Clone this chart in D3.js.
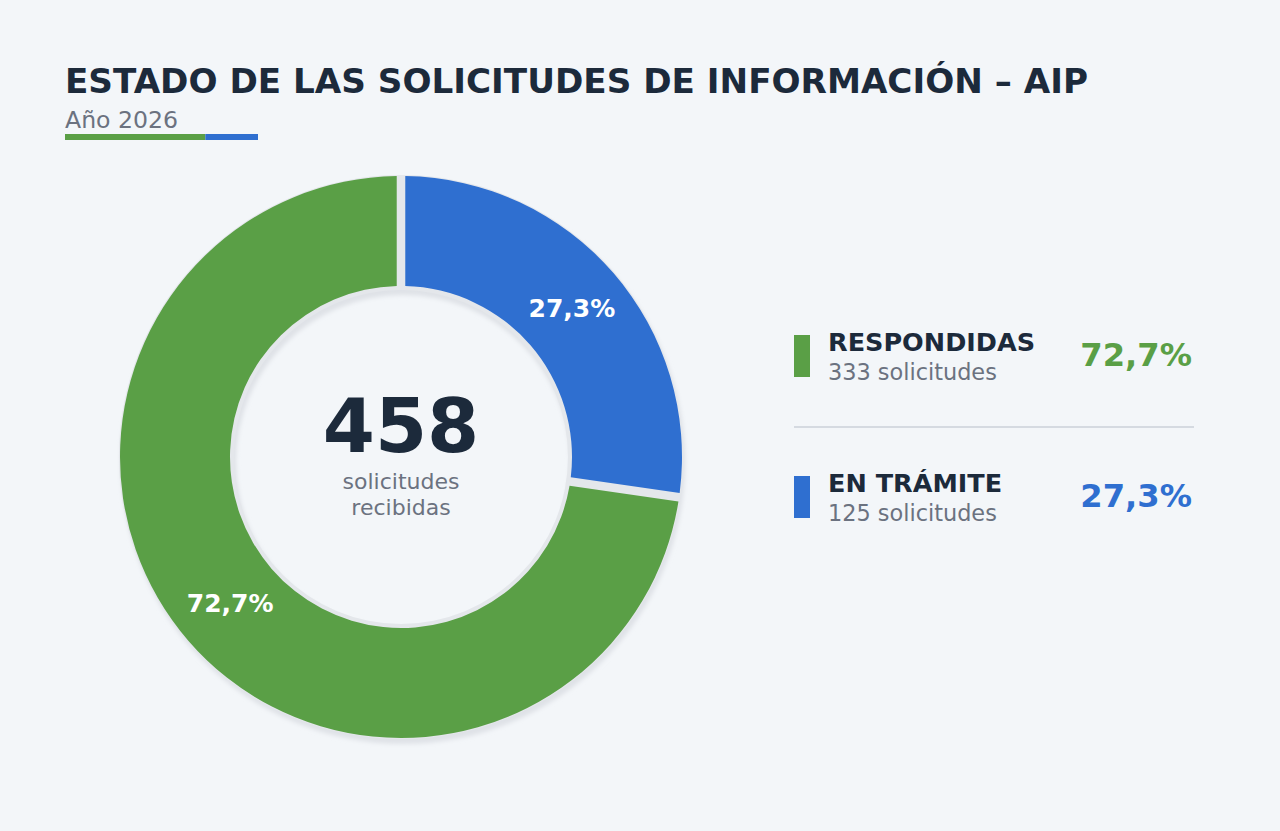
<!DOCTYPE html>
<html>
<head>
<meta charset="utf-8">
<script src="https://cdn.jsdelivr.net/npm/d3@7"></script>
<style>
  html, body { margin: 0; padding: 0; background: #f3f6f9; }
  svg { display: block; font-family: "DejaVu Sans", sans-serif; }
</style>
</head>
<body>
<svg class="chart"></svg>
<script>
const categories = ["EN TRÁMITE", "RESPONDIDAS"];
const counts = [125, 333];
const percentLabels = ["27,3%", "72,7%"];
const colors = ["#2f6fd0", "#5a9f46"];

const legendOrder = [1, 0];

const width = 1280;
const height = 831;

const svg = d3.select('.chart')
  .attr('width', width)
  .attr('height', height);

svg.append('rect')
  .attr('width', width)
  .attr('height', height)
  .attr('fill', '#f3f6f9');

// title block
svg.append('text')
  .attr('x', 65)
  .attr('y', 93)
  .attr('fill', '#1c2a3b')
  .style('font-size', '34.2px')
  .style('font-weight', 'bold')
  .text('ESTADO DE LAS SOLICITUDES DE INFORMACIÓN – AIP');

svg.append('text')
  .attr('x', 65)
  .attr('y', 128)
  .attr('fill', '#6b7280')
  .style('font-size', '23.6px')
  .text('Año 2026');

const total = d3.sum(counts);

const bar = d3.scaleLinear()
  .domain([0, total])
  .range([65, 258]);

svg.append('rect')
  .attr('x', bar(0))
  .attr('y', 134)
  .attr('width', bar(counts[1]) - bar(0))
  .attr('height', 6)
  .attr('fill', colors[1]);

svg.append('rect')
  .attr('x', bar(counts[1]))
  .attr('y', 134)
  .attr('width', bar(total) - bar(counts[1]))
  .attr('height', 6)
  .attr('fill', colors[0]);

// donut
const cx = 401, cy = 457;
const outer = 281, inner = 171;

const defs = svg.append('defs');
defs.append('filter')
  .attr('id', 'soft')
  .attr('x', '-20%').attr('y', '-20%')
  .attr('width', '140%').attr('height', '140%')
.append('feGaussianBlur')
  .attr('stdDeviation', 2);

const donut = svg.append('g')
  .attr('transform', `translate(${cx}, ${cy})`);

const ring = d3.arc()
  .innerRadius(inner - 4)
  .outerRadius(outer + 1)
  .startAngle(0)
  .endAngle(2 * Math.PI);

donut.append('path')
  .attr('d', ring())
  .attr('transform', 'translate(2, 5)')
  .attr('fill', '#dfe2e7')
  .attr('filter', 'url(#soft)');

donut.append('path')
  .attr('d', ring())
  .attr('fill', '#e4e7eb');

const pie = d3.pie()
  .sort(null)
  .value(function(d) { return d; });

const arc = d3.arc()
  .innerRadius(inner)
  .outerRadius(outer)
  .padAngle(0.026);

const arcs = pie(counts);

donut.selectAll('.slice')
  .data(arcs)
  .enter()
.append('path')
  .attr('class', 'slice')
  .attr('d', arc)
  .attr('fill', function(d, i) { return colors[i]; });

donut.selectAll('.slice-label')
  .data(arcs)
  .enter()
.append('text')
  .attr('class', 'slice-label')
  .attr('transform', function(d) { return `translate(${arc.centroid(d)})`; })
  .attr('dy', '0.3em')
  .attr('text-anchor', 'middle')
  .attr('fill', '#ffffff')
  .style('font-size', '25px')
  .style('font-weight', 'bold')
  .text(function(d, i) { return percentLabels[i]; });

donut.append('text')
  .attr('text-anchor', 'middle')
  .attr('y', -5)
  .attr('fill', '#1c2a3b')
  .style('font-size', '75px')
  .style('font-weight', 'bold')
  .text(total);

donut.append('text')
  .attr('text-anchor', 'middle')
  .attr('y', 32)
  .attr('fill', '#6b7280')
  .style('font-size', '22px')
  .text('solicitudes');

donut.append('text')
  .attr('text-anchor', 'middle')
  .attr('y', 58)
  .attr('fill', '#6b7280')
  .style('font-size', '22px')
  .text('recibidas');

// legend
const rowY = d3.scalePoint()
  .domain(legendOrder)
  .range([356, 497]);

const legend = svg.selectAll('.legend')
  .data(legendOrder)
  .enter()
.append('g')
  .attr('class', 'legend')
  .attr('transform', function(i) { return `translate(794, ${rowY(i)})`; });

legend.append('rect')
  .attr('x', 0)
  .attr('y', -21)
  .attr('width', 16)
  .attr('height', 42)
  .attr('fill', function(i) { return colors[i]; });

legend.append('text')
  .attr('x', 34)
  .attr('y', -5)
  .attr('fill', '#1c2a3b')
  .style('font-size', '25.5px')
  .style('font-weight', 'bold')
  .text(function(i) { return categories[i]; });

legend.append('text')
  .attr('x', 34)
  .attr('y', 24)
  .attr('fill', '#6b7280')
  .style('font-size', '22.4px')
  .text(function(i) { return counts[i] + ' solicitudes'; });

legend.append('text')
  .attr('x', 398)
  .attr('y', 10)
  .attr('text-anchor', 'end')
  .attr('fill', function(i) { return colors[i]; })
  .style('font-size', '32.2px')
  .style('font-weight', 'bold')
  .text(function(i) { return percentLabels[i]; });

svg.append('line')
  .attr('x1', 794)
  .attr('x2', 1194)
  .attr('y1', 427)
  .attr('y2', 427)
  .attr('stroke', '#d5dae1')
  .attr('stroke-width', 2);
</script>
</body>
</html>
